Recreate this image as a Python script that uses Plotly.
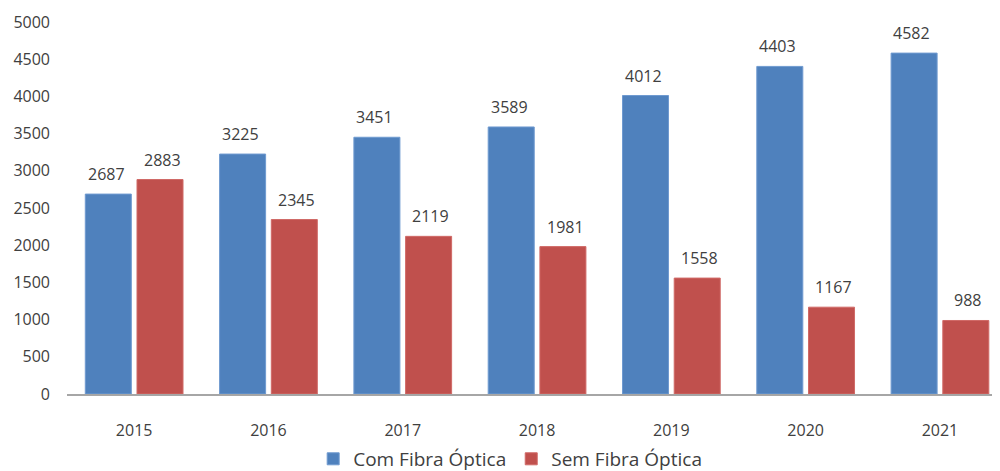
import plotly.graph_objects as go

years = ["2015", "2016", "2017", "2018", "2019", "2020", "2021"]
com_fibra = [2687, 3225, 3451, 3589, 4012, 4403, 4582]
sem_fibra = [2883, 2345, 2119, 1981, 1558, 1167, 988]

BLUE = "#4F81BD"
RED = "#C0504D"
TXT = "#404040"
FONT = "Open Sans"

fig = go.Figure()
fig.add_trace(go.Bar(x=years, y=com_fibra, name="Com Fibra Óptica",
                     marker=dict(color=BLUE, line=dict(color="#6f9ad0", width=1))))
fig.add_trace(go.Bar(x=years, y=sem_fibra, name="Sem Fibra Óptica",
                     marker=dict(color=RED, line=dict(color="#d06a67", width=1))))

# value labels above each bar (category axes take the serial number)
for i, (a, b) in enumerate(zip(com_fibra, sem_fibra)):
    for val, shift in ((a, -28), (b, 28)):
        fig.add_annotation(x=i, y=val, text=str(val), showarrow=False,
                           xshift=shift, yshift=7, yanchor="bottom",
                           font=dict(family=FONT, size=16, color=TXT))

# page body has an 8px margin, so the figure is sized/offset to compensate
fig.update_layout(
    width=992, height=463,
    paper_bgcolor="white", plot_bgcolor="white",
    margin=dict(l=59, r=0, t=14, b=77),
    barmode="group", bargap=0.23, bargroupgap=0.11,
    font=dict(family=FONT, size=16, color=TXT),
    legend=dict(orientation="h", x=0.475, xanchor="center",
                yref="container", y=0.026, yanchor="middle",
                bgcolor="rgba(0,0,0,0)",
                font=dict(family=FONT, size=19, color=TXT), itemwidth=30,
                traceorder="normal"),
)
fig.update_xaxes(type="category", range=[-0.5, 6.447], showline=True, linecolor="#A6A6A6",
                 linewidth=2, showgrid=False, ticks="", ticklabelstandoff=21,
                 automargin=False, tickfont=dict(family=FONT, size=16, color=TXT))
fig.update_yaxes(range=[0, 5000], dtick=500, showgrid=False, zeroline=False, showline=False,
                 ticks="", ticklabelstandoff=16, automargin=False,
                 tickfont=dict(family=FONT, size=16, color=TXT))

fig.write_html("out.html")
